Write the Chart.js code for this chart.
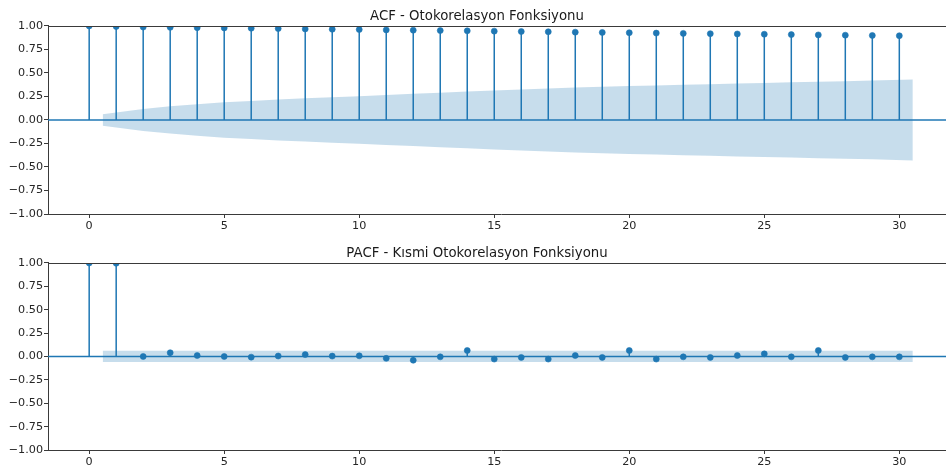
<!DOCTYPE html>
<html>
<head>
<meta charset="utf-8">
<script src="https://cdn.jsdelivr.net/npm/chart.js@4.4.1/dist/chart.umd.min.js"></script>
<style>
  html, body { margin: 0; padding: 0; background: #fff; overflow: hidden; width: 946px; height: 470px; }
  canvas { position: absolute; left: 0; }
  #c1 { top: 0; }
  #c2 { top: 237px; }
</style>
</head>
<body>
<canvas id="c1" width="954" height="235"></canvas>
<canvas id="c2" width="954" height="235"></canvas>
<script>
// ---- data ----
const lags = [0,1,2,3,4,5,6,7,8,9,10,11,12,13,14,15,16,17,18,19,20,21,22,23,24,25,26,27,28,29,30];
const acfValues = [1.000, 0.994, 0.988, 0.985, 0.982, 0.979, 0.976, 0.972, 0.968, 0.965, 0.962,
                   0.958, 0.955, 0.951, 0.948, 0.945, 0.941, 0.938, 0.934, 0.931, 0.928,
                   0.924, 0.921, 0.918, 0.915, 0.912, 0.908, 0.905, 0.902, 0.899, 0.896];
const pacfValues = [1.000, 0.997, 0.000, 0.040, 0.010, 0.000, -0.007, 0.005, 0.020, 0.004, 0.007,
                    -0.020, -0.040, -0.004, 0.064, -0.028, -0.010, -0.028, 0.010, -0.010, 0.064,
                    -0.028, -0.004, -0.010, 0.010, 0.028, -0.004, 0.064, -0.010, -0.004, -0.004];
// confidence band half widths for lags 1..30
const bandLags = [1,2,3,4,5,6,7,8,9,10,11,12,13,14,15,16,17,18,19,20,21,22,23,24,25,26,27,28,29,30];
const acfBand = [0.062, 0.118, 0.145, 0.168, 0.188, 0.203, 0.217, 0.230, 0.242, 0.253,
                 0.266, 0.278, 0.290, 0.302, 0.314, 0.325, 0.335, 0.345, 0.353, 0.361,
                 0.368, 0.375, 0.381, 0.388, 0.394, 0.400, 0.407, 0.413, 0.419, 0.430];
const pacfBand = [0.06, 0.06, 0.06, 0.06, 0.06, 0.06, 0.06, 0.06, 0.06, 0.06,
                  0.06, 0.06, 0.06, 0.06, 0.06, 0.06, 0.06, 0.06, 0.06, 0.06,
                  0.06, 0.06, 0.06, 0.06, 0.06, 0.06, 0.06, 0.06, 0.06, 0.06];
const xTicks = [0, 5, 10, 15, 20, 25, 30];
const yTicks = [-1, -0.75, -0.5, -0.25, 0, 0.25, 0.5, 0.75, 1];
const XMIN = -1.525, XMAX = 32.025;
const titles = ['ACF - Otokorelasyon Fonksiyonu', 'PACF - Kısmi Otokorelasyon Fonksiyonu'];

// ---- styles ----
const BLUE = '#1f77b4';
const BAND = 'rgba(31,119,180,0.25)';
const AXC = '#3a3a3a';
const FONT = 'DejaVu Sans';

const topSpine = {
  id: 'topSpine',
  afterDraw(chart) {
    const a = chart.chartArea, ctx = chart.ctx;
    ctx.save();
    ctx.strokeStyle = AXC; ctx.lineWidth = 1;
    ctx.beginPath();
    ctx.moveTo(a.left, Math.round(a.top) + 0.5);
    ctx.lineTo(a.right, Math.round(a.top) + 0.5);
    ctx.stroke();
    ctx.restore();
  }
};

function makeChart(id, title, values, band, xAxisH) {
  const stems = [];
  lags.forEach((l, i) => { stems.push({x: l, y: 0}, {x: l, y: values[i]}, {x: l, y: null}); });
  const markers = lags.map((l, i) => ({x: l, y: values[i]}));
  const bx = bandLags.slice();
  bx[0] -= 0.5; bx[bx.length - 1] += 0.5;
  const upper = bx.map((x, i) => ({x, y: band[i]}));
  const lower = bx.map((x, i) => ({x, y: -band[i]}));
  const zero = [{x: XMIN, y: 0}, {x: XMAX, y: 0}];

  return new Chart(document.getElementById(id), {
    type: 'line',
    data: {
      datasets: [
        {data: upper, borderWidth: 0, pointRadius: 0, fill: '+1', backgroundColor: BAND, borderColor: 'rgba(0,0,0,0)', order: 1, tension: 0},
        {data: lower, borderWidth: 0, pointRadius: 0, fill: false, borderColor: 'rgba(0,0,0,0)', order: 1, tension: 0},
        {data: markers, showLine: false, pointRadius: 3, pointBorderWidth: 0.6, pointBackgroundColor: BLUE, pointBorderColor: BLUE, order: 2},
        {data: zero, borderColor: BLUE, borderWidth: 1.5, pointRadius: 0, order: 3},
        {data: stems, borderColor: BLUE, borderWidth: 1.5, pointRadius: 0, spanGaps: false, order: 4}
      ]
    },
    options: {
      responsive: false,
      animation: false,
      devicePixelRatio: 1,
      layout: {padding: 0, autoPadding: false},
      plugins: {
        legend: {display: false},
        tooltip: {enabled: false},
        title: {
          display: true, text: title, color: '#1a1a1a',
          font: {family: FONT, size: 13.3, weight: 'normal'},
          padding: {top: 9, bottom: 1}
        }
      },
      scales: {
        x: {
          type: 'linear', min: XMIN, max: XMAX,
          afterBuildTicks: s => { s.ticks = xTicks.map(v => ({value: v})); },
          afterFit: s => { s.height = xAxisH; s.paddingLeft = 0; s.paddingRight = 0; },
          grid: {display: true, drawOnChartArea: false, drawTicks: true, tickLength: 4, tickColor: AXC, tickWidth: 1},
          border: {display: true, color: AXC, width: 1},
          ticks: {color: '#262626', font: {family: FONT, size: 11.2}, padding: 1, maxRotation: 0, autoSkip: false}
        },
        y: {
          type: 'linear', min: -1, max: 1,
          afterBuildTicks: s => { s.ticks = yTicks.map(v => ({value: v})); },
          afterFit: s => { s.width = 48; s.paddingTop = 0; s.paddingBottom = 0; },
          grid: {display: true, drawOnChartArea: false, drawTicks: true, tickLength: 4, tickColor: AXC, tickWidth: 1},
          border: {display: true, color: AXC, width: 1},
          ticks: {
            color: '#262626', font: {family: FONT, size: 11.2}, padding: 1, autoSkip: false,
            callback: v => v.toFixed(2).replace('-', '\u2212')
          }
        }
      }
    },
    plugins: [topSpine]
  });
}

makeChart('c1', titles[0], acfValues, acfBand, 21);
makeChart('c2', titles[1], pacfValues, pacfBand, 22);
</script>
</body>
</html>
